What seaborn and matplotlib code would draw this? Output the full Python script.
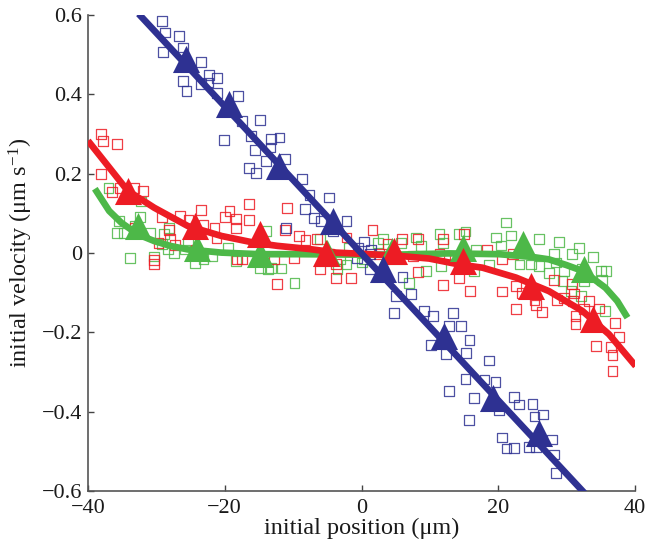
import numpy as np
import pandas as pd
import matplotlib
matplotlib.use("Agg")
import matplotlib.pyplot as plt
import seaborn as sns

# ---------------- data ----------------
blue_sq_x = [-29.2, -28.7, -26.7, -29.0, -26.1, -23.5, -22.3, -21.1, -26.1, -25.6, -23.5, -22.5,
             -21.1, -18.1, -17.5, -14.9, -20.1, -16.2, -13.2, -12.0, -15.6, -13.3, -14.0, -16.5,
             -15.4, -11.2, -8.7, -7.6, -4.7, -8.3, -6.9, -5.9, -4.2, -2.2, -11.0, 0.4, -0.5, 1.4,
             1.2, -0.7, 1.2, 6.0, 5.0, 7.2, 4.7, 9.2, 10.4, 13.4, 12.8, 14.6, 15.8, 10.2, 12.3,
             15.3, 18.7, 15.2, 18.0, 19.6, 12.8, 16.5, 22.3, 23.0, 20.1, 25.0, 26.5, 25.3, 15.7,
             20.6, 27.9, 21.2, 22.3, 24.5, 25.5, 28.2, 28.5]
blue_sq_y = [0.584, 0.556, 0.548, 0.506, 0.518, 0.481, 0.449, 0.441, 0.434, 0.409, 0.426, 0.430,
             0.403, 0.396, 0.333, 0.335, 0.285, 0.294, 0.287, 0.291, 0.260, 0.266, 0.231, 0.215,
             0.201, 0.237, 0.186, 0.146, 0.140, 0.110, 0.089, 0.081, 0.056, 0.081, 0.064, 0.029,
             0.012, 0.009, -0.003, -0.013, -0.041, -0.061, -0.109, -0.104, -0.151, -0.146, -0.159,
             -0.151, -0.184, -0.184, -0.220, -0.231, -0.254, -0.252, -0.271, -0.317, -0.319,
             -0.326, -0.347, -0.365, -0.364, -0.382, -0.397, -0.381, -0.407, -0.412, -0.420,
             -0.465, -0.470, -0.493, -0.492, -0.490, -0.490, -0.508, -0.555]

red_sq_x = [-38.1, -37.8, -35.8, -38.1, -36.5, -35.3, -33.3, -31.9, -29.2, -26.6, -23.5, -25.3,
            -23.1, -20.0, -19.3, -18.3, -18.3, -16.4, -16.4, -21.5, -21.2, -33.1, -28.2, -28.0,
            -29.7, -27.3, -24.2, -30.3, -30.3, -18.2, -17.5, -12.8, -12.4, -10.9, -11.2, -9.1,
            -8.2, -6.5, -6.1, -3.7, -3.7, -2.2, -4.7, -9.9, -1.5, 1.6, 3.8, 5.9, 8.3, 7.5, 8.3,
            11.9, 11.9, 11.4, 13.6, 2.5, 15.0, 18.4, 20.5, 22.1, 14.3, 15.9, 20.5, 22.6, 22.6,
            23.5, 25.3, 25.5, 26.4, 28.2, 28.6, 29.6, 30.8, 31.1, 30.9, 33.3, 31.3, 31.3, 32.6,
            34.7, 37.1, 37.7, 34.3, 36.5, 36.7, 36.7]
red_sq_y = [0.301, 0.283, 0.275, 0.199, 0.154, 0.164, 0.164, 0.157, 0.091, 0.093, 0.109, 0.083,
            0.071, 0.091, 0.106, 0.086, 0.063, 0.124, 0.083, 0.062, 0.038, 0.063, 0.058, 0.035,
            0.026, 0.020, 0.009, -0.018, -0.028, -0.016, -0.016, -0.016, -0.079, 0.113, 0.058,
            0.043, 0.033, 0.035, -0.041, -0.028, -0.063, 0.039, -0.003, -0.013, -0.064, 0.057,
            0.023, 0.035, 0.035, -0.008, -0.048, -0.081, 0.035, -0.002, -0.016, -0.003, 0.048,
            0.009, -0.016, -0.003, -0.064, -0.096, -0.097, -0.083, -0.141, -0.100, -0.119,
            -0.131, -0.149, -0.068, -0.119, -0.113, -0.079, -0.102, -0.121, -0.121, -0.159,
            -0.178, -0.142, -0.140, -0.176, -0.212, -0.234, -0.237, -0.257, -0.298]

green_sq_x = [-37.0, -32.3, -32.4, -35.5, -35.8, -34.7, -33.2, -30.9, -28.9, -28.1, -29.2, -28.3,
              -27.4, -25.4, -33.9, -30.3, -24.4, -23.1, -21.9, -19.5, -18.3, -25.8, -14.8, -13.7,
              -11.7, -9.8, -3.2, -2.2, -6.1, -3.5, 0.1, 3.1, 5.8, 8.7, 9.4, 11.4, 11.6, 11.9,
              -1.8, 7.0, 2.4, 0.4, 8.0, 14.3, 15.2, 19.7, 20.4, 21.9, 21.1, 26.0, 28.4, 28.9,
              30.8, 31.8, 33.8, 35.0, 35.7, 35.2, 35.6, 24.8, 27.4, 32.3, 29.4, 16.7, 18.6, 16.5,
              23.1, 26.0, 29.6, 32.6, 30.6, 32.1, 28.2, -13.9, -13.2]
green_sq_y = [0.164, 0.130, 0.091, 0.081, 0.051, 0.051, 0.068, 0.051, 0.047, 0.064, 0.022, 0.009,
              0.001, 0.026, -0.012, -0.009, -0.025, -0.016, -0.009, 0.013, -0.020, 0.009, -0.037,
              -0.041, -0.039, -0.075, -0.016, -0.029, 0.035, -0.041, -0.024, 0.035, 0.026, 0.018,
              -0.045, 0.047, -0.033, 0.026, 0.013, -0.075, 0.026, -0.016, 0.039, 0.047, 0.054,
              0.039, 0.019, 0.044, 0.077, 0.035, -0.024, 0.027, -0.003, 0.013, -0.010, -0.045,
              -0.045, -0.068, -0.146, -0.029, -0.051, -0.041, -0.071, 0.009, -0.029, -0.045,
              -0.029, -0.033, -0.045, -0.071, -0.096, -0.109, -0.003, 0.056, -0.037]

blue_tri_x = [-25.6, -19.4, -12.1, -4.2, 3.1, 12.1, 19.2, 25.9]
blue_tri_y = [0.490, 0.375, 0.220, 0.081, -0.041, -0.210, -0.365, -0.454]
red_tri_x = [-34.2, -24.4, -14.9, -5.2, 4.8, 14.8, 24.8, 33.8]
red_tri_y = [0.157, 0.068, 0.047, 0.001, 0.005, -0.020, -0.083, -0.167]
green_tri_x = [-32.7, -24.1, -14.9, -5.0, 4.5, 14.8, 23.6, 32.6]
green_tri_y = [0.068, 0.013, -0.003, 0.000, 0.005, 0.013, 0.022, -0.041]

blue_fit_x = [-32.6, 32.6]
blue_fit_y = [0.603, -0.605]
red_fit_x = [-40.0, -37.1, -34.2, -30.3, -25.4, -20.5, -15.7, -12.3, -7.6, -3.7, 1.2, 6.0, 9.9,
             14.3, 17.7, 22.6, 27.4, 32.3, 36.2, 40.1]
red_fit_y = [0.283, 0.220, 0.157, 0.114, 0.068, 0.043, 0.026, 0.018, 0.010, 0.001, -0.003,
             -0.008, -0.014, -0.029, -0.037, -0.062, -0.096, -0.146, -0.205, -0.285]
green_fit_x = [-39.0, -36.9, -35.1, -32.7, -30.3, -28.0, -25.4, -20.5, -14.9, -9.1, -1.8, 5.5,
               12.8, 20.1, 25.0, 27.4, 29.9, 32.3, 34.0, 35.7, 37.4, 38.9]
green_fit_y = [0.162, 0.106, 0.076, 0.047, 0.030, 0.018, 0.009, 0.001, -0.003, -0.003, -0.004,
               -0.004, -0.001, -0.003, -0.010, -0.016, -0.030, -0.045, -0.066, -0.088, -0.121,
               -0.163]

x_ticks = [-40, -20, 0, 20, 40]
x_ticklabels = ["\u221240", "\u221220", "0", "20", "40"]
y_ticks = [-0.6, -0.4, -0.2, 0, 0.2, 0.4, 0.6]
y_ticklabels = ["\u22120.6", "\u22120.4", "\u22120.2", "0", "0.2", "0.4", "0.6"]

BLUE = "#2E3192"
RED = "#ED1C24"
GREEN = "#4DB848"

# ---------------- styling ----------------
sns.set_style("ticks")
plt.rcParams["font.family"] = ["Liberation Serif", "DejaVu Serif"]
plt.rcParams["mathtext.fontset"] = "custom"
plt.rcParams["mathtext.rm"] = "Liberation Serif"
plt.rcParams["mathtext.it"] = "Liberation Serif:italic"

fig = plt.figure(figsize=(6.46, 5.47), dpi=100)
ax = fig.add_axes([88 / 646, 1 - 491 / 547, (635 - 88) / 646, (491 - 15) / 547])

series = [
    (green_sq_x, green_sq_y, green_fit_x, green_fit_y, green_tri_x, green_tri_y, GREEN),
    (red_sq_x, red_sq_y, red_fit_x, red_fit_y, red_tri_x, red_tri_y, RED),
    (blue_sq_x, blue_sq_y, blue_fit_x, blue_fit_y, blue_tri_x, blue_tri_y, BLUE),
]

for sx, sy, fx, fy, tx, ty, c in series:
    sns.scatterplot(x=sx, y=sy, ax=ax, marker="s", s=50, fc="none", ec=c,
                    linewidth=0.9, alpha=0.85, zorder=2, legend=False)

for sx, sy, fx, fy, tx, ty, c in series:
    df = pd.DataFrame({"x": fx, "y": fy})
    sns.lineplot(data=df, x="x", y="y", ax=ax, color=c, linewidth=4.8, sort=False,
                 estimator=None, zorder=3, legend=False, solid_capstyle="butt")

for sx, sy, fx, fy, tx, ty, c in series:
    sns.scatterplot(x=tx, y=ty, ax=ax, marker="^", s=380, color=c, edgecolor=c,
                    linewidth=0, zorder=4, legend=False)

ax.set_xlim(-40, 40)
ax.set_ylim(-0.6, 0.6)
ax.set_xticks(x_ticks)
ax.set_xticklabels(x_ticklabels)
ax.set_yticks(y_ticks)
ax.set_yticklabels(y_ticklabels)
ax.tick_params(direction="in", length=4, width=1, colors="#444444", labelcolor="#1a1a1a",
               labelsize=16)
ax.tick_params(axis="x", pad=5.5)
ax.tick_params(axis="y", pad=4)
for side in ["top", "right"]:
    ax.spines[side].set_visible(False)
for side in ["left", "bottom"]:
    ax.spines[side].set_color("#555555")
    ax.spines[side].set_linewidth(1.2)

ax.set_xlabel("initial position (\u03bcm)", fontsize=17.5, labelpad=0, color="#1a1a1a")
ax.set_ylabel("initial velocity (\u03bcm s$^{\\mathregular{-1}}$)", fontsize=17.5, labelpad=5,
              color="#1a1a1a")

fig.savefig("out.png", dpi=100)
